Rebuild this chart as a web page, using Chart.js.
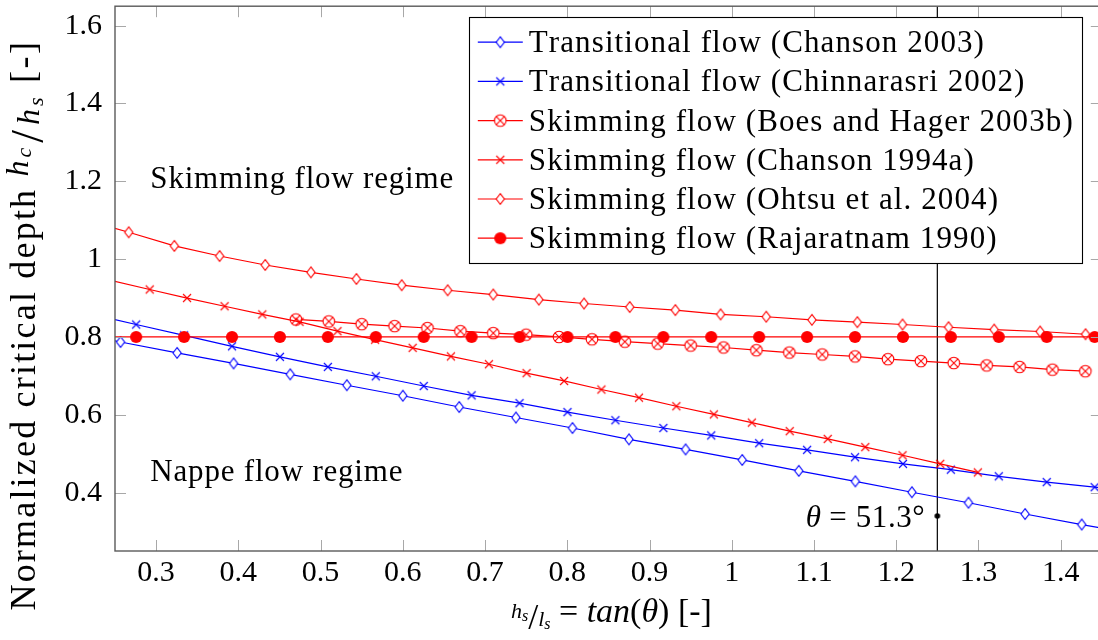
<!DOCTYPE html>
<html>
<head>
<meta charset="utf-8">
<script src="https://cdn.jsdelivr.net/npm/chart.js@4.4.1/dist/chart.umd.min.js"></script>
<style>
  html, body { margin: 0; padding: 0; overflow: hidden; background: #fff; }
  canvas { display: block; }
</style>
</head>
<body>
<canvas id="chart" width="1108" height="640"></canvas>
<script>
// ---- data (x = hs/ls, y = hc/hs) ----
const chanson2003X = [0.235, 0.2567, 0.3255, 0.3942, 0.4631, 0.5319, 0.6000, 0.6686, 0.7375, 0.8063, 0.8750, 0.9439, 1.0127, 1.0815, 1.1503, 1.2191, 1.2879, 1.3567, 1.4256, 1.465];
const chanson2003Y = [0.796, 0.787, 0.759, 0.732, 0.704, 0.676, 0.649, 0.620, 0.593, 0.566, 0.537, 0.511, 0.484, 0.456, 0.429, 0.401, 0.374, 0.345, 0.318, 0.303];

const chinnarasriX = [0.235, 0.2757, 0.3340, 0.3923, 0.4505, 0.5088, 0.5671, 0.6254, 0.6836, 0.7419, 0.8002, 0.8585, 0.9168, 0.9750, 1.0333, 1.0916, 1.1499, 1.2082, 1.2664, 1.3247, 1.3830, 1.4413, 1.465];
const chinnarasriY = [0.852, 0.832, 0.804, 0.776, 0.749, 0.723, 0.699, 0.674, 0.650, 0.630, 0.607, 0.586, 0.566, 0.547, 0.527, 0.510, 0.491, 0.474, 0.459, 0.442, 0.427, 0.414, 0.409];

const boesX = [0.47, 0.51, 0.55, 0.59, 0.63, 0.67, 0.71, 0.75, 0.79, 0.83, 0.87, 0.91, 0.95, 0.99, 1.03, 1.07, 1.11, 1.15, 1.19, 1.23, 1.27, 1.31, 1.35, 1.39, 1.43];
const boesY = [0.845, 0.840, 0.833, 0.828, 0.823, 0.815, 0.810, 0.806, 0.800, 0.794, 0.788, 0.783, 0.778, 0.773, 0.766, 0.760, 0.755, 0.750, 0.743, 0.738, 0.733, 0.727, 0.723, 0.716, 0.712];

const chanson1994X = [0.235, 0.2922, 0.3376, 0.3833, 0.4291, 0.4744, 0.5205, 0.5663, 0.6120, 0.6585, 0.7047, 0.7505, 0.7961, 0.8415, 0.8872, 0.9326, 0.9782, 1.0244, 1.0705, 1.1167, 1.1624, 1.2077, 1.2535, 1.2993];
const chanson1994Y = [0.950, 0.922, 0.900, 0.879, 0.858, 0.839, 0.815, 0.793, 0.772, 0.750, 0.730, 0.707, 0.687, 0.665, 0.644, 0.622, 0.601, 0.580, 0.558, 0.538, 0.517, 0.496, 0.474, 0.452];

const ohtsuX = [0.235, 0.2667, 0.3222, 0.3772, 0.4327, 0.4882, 0.5436, 0.5987, 0.6545, 0.7099, 0.7654, 0.8204, 0.8759, 0.9314, 0.9864, 1.0419, 1.0975, 1.1527, 1.2077, 1.2636, 1.3191, 1.3750, 1.4302, 1.465];
const ohtsuY = [1.088, 1.069, 1.034, 1.008, 0.985, 0.966, 0.949, 0.933, 0.920, 0.909, 0.896, 0.886, 0.877, 0.869, 0.858, 0.852, 0.844, 0.838, 0.832, 0.825, 0.819, 0.814, 0.807, 0.802];

const rajaratnamX = [0.235, 0.2757, 0.3340, 0.3923, 0.4505, 0.5088, 0.5671, 0.6254, 0.6836, 0.7419, 0.8002, 0.8585, 0.9168, 0.9750, 1.0333, 1.0916, 1.1499, 1.2082, 1.2664, 1.3247, 1.3830, 1.4413, 1.465];
const rajaratnamY = [0.8, 0.8, 0.8, 0.8, 0.8, 0.8, 0.8, 0.8, 0.8, 0.8, 0.8, 0.8, 0.8, 0.8, 0.8, 0.8, 0.8, 0.8, 0.8, 0.8, 0.8, 0.8, 0.8];

// theta = 51.3 deg marker line and node
const thetaLineX = [1.25, 1.25];
const thetaLineY = [0.25, 1.65];
const thetaDotX = [1.25];
const thetaDotY = [0.34];

const seriesLabels = [
  'Transitional flow (Chanson 2003)',
  'Transitional flow (Chinnarasri 2002)',
  'Skimming flow (Boes and Hager 2003b)',
  'Skimming flow (Chanson 1994a)',
  'Skimming flow (Ohtsu et al. 2004)',
  'Skimming flow (Rajaratnam 1990)'
];

const xTickValues = [0.3, 0.4, 0.5, 0.6, 0.7, 0.8, 0.9, 1.0, 1.1, 1.2, 1.3, 1.4];
const xTickLabels = ['0.3', '0.4', '0.5', '0.6', '0.7', '0.8', '0.9', '1', '1.1', '1.2', '1.3', '1.4'];
const yTickValues = [0.4, 0.6, 0.8, 1.0, 1.2, 1.4, 1.6];
const yTickLabels = ['0.4', '0.6', '0.8', '1', '1.2', '1.4', '1.6'];

const X_MIN = 0.25, X_MAX = 1.45, Y_MIN = 0.25, Y_MAX = 1.65;

// ---- look ----
const SERIF = '"Liberation Serif"';
const BLUE = '#0000ff';
const RED = '#ff0000';
const TICK_LEN = 11;

function toPoints(xs, ys) {
  return xs.map((x, i) => ({ x: x, y: ys[i] }));
}

// marker images, close to the pgfplots marks
function makeMarker(kind, color) {
  const c = document.createElement('canvas');
  const g = c.getContext('2d');
  if (kind === 'diamond') {
    c.width = 12; c.height = 16;
    g.lineWidth = 1.1; g.strokeStyle = color;
    g.beginPath();
    g.moveTo(6, 2.6); g.lineTo(10.1, 8); g.lineTo(6, 13.4); g.lineTo(1.9, 8); g.closePath();
    g.fillStyle = '#fff'; g.fill(); g.stroke();
  } else if (kind === 'cross') {
    c.width = 12; c.height = 12;
    g.lineWidth = 1.1; g.strokeStyle = color;
    g.beginPath();
    g.moveTo(2, 2); g.lineTo(10, 10); g.moveTo(10, 2); g.lineTo(2, 10);
    g.stroke();
  } else if (kind === 'otimes') {
    c.width = 16; c.height = 16;
    g.lineWidth = 1.1; g.strokeStyle = color;
    g.beginPath(); g.arc(8, 8, 5.8, 0, Math.PI * 2);
    g.fillStyle = '#fff'; g.fill(); g.stroke();
    g.beginPath();
    g.moveTo(3.9, 3.9); g.lineTo(12.1, 12.1); g.moveTo(12.1, 3.9); g.lineTo(3.9, 12.1);
    g.stroke();
  } else if (kind === 'dot') {
    c.width = 16; c.height = 16;
    g.fillStyle = color;
    g.beginPath(); g.arc(8, 8, 6.1, 0, Math.PI * 2); g.fill();
  } else if (kind === 'node') {
    c.width = 8; c.height = 8;
    g.fillStyle = color;
    g.beginPath(); g.arc(4, 4, 2.8, 0, Math.PI * 2); g.fill();
  }
  return c;
}

const markerImgs = [
  makeMarker('diamond', BLUE),
  makeMarker('cross', BLUE),
  makeMarker('otimes', RED),
  makeMarker('cross', RED),
  makeMarker('diamond', RED),
  makeMarker('dot', RED)
];
const seriesColors = [BLUE, BLUE, RED, RED, RED, RED];
const seriesPoints = [
  toPoints(chanson2003X, chanson2003Y),
  toPoints(chinnarasriX, chinnarasriY),
  toPoints(boesX, boesY),
  toPoints(chanson1994X, chanson1994Y),
  toPoints(ohtsuX, ohtsuY),
  toPoints(rajaratnamX, rajaratnamY)
];

const datasets = seriesPoints.map((pts, i) => ({
  label: seriesLabels[i],
  data: pts,
  showLine: true,
  borderColor: seriesColors[i],
  backgroundColor: seriesColors[i],
  borderWidth: 1.2,
  pointStyle: markerImgs[i],
  pointRadius: 5,
  order: 5 - i
}));
datasets.push({
  label: 'theta line',
  data: toPoints(thetaLineX, thetaLineY),
  showLine: true,
  borderColor: '#000',
  borderWidth: 1.2,
  pointRadius: 0,
  order: 10
});
datasets.push({
  label: 'theta node',
  data: toPoints(thetaDotX, thetaDotY),
  showLine: false,
  pointStyle: makeMarker('node', '#000'),
  pointRadius: 3,
  order: -1
});

// ---- text helpers: runs of mixed upright / italic / small parts ----
// extra tracking is done by hand, char by char
function fontOf(p) {
  return (p.it ? 'italic ' : '') + p.size + 'px ' + SERIF;
}
function partWidth(ctx, p) {
  ctx.font = fontOf(p);
  return ctx.measureText(p.t).width + (p.ls || 0) * p.t.length;
}
function drawPart(ctx, p, x, y) {
  ctx.font = fontOf(p);
  if (!p.ls) { ctx.fillText(p.t, x, y); return; }
  let cx = x;
  for (const ch of p.t) {
    ctx.fillText(ch, cx, y);
    cx += ctx.measureText(ch).width + p.ls;
  }
}
function drawRun(ctx, parts, x, y, align) {
  const widths = parts.map(p => partWidth(ctx, p));
  const total = widths.reduce((a, b) => a + b, 0);
  let cx = align === 'center' ? x - total / 2 : (align === 'right' ? x - total : x);
  ctx.textAlign = 'left';
  ctx.textBaseline = 'alphabetic';
  parts.forEach((p, i) => {
    drawPart(ctx, p, cx, y + (p.dy || 0));
    cx += widths[i];
  });
  return total;
}

const xTitleParts = [
  { t: 'h', size: 22, it: true, dy: -4 },
  { t: 's', size: 16, it: true, dy: -1 },
  { t: '/', size: 36, dy: 7 },
  { t: 'l', size: 22, it: true, dy: 4 },
  { t: 's', size: 16, it: true, dy: 7 },
  { t: ' = ', size: 34 },
  { t: 'tan', size: 34, it: true },
  { t: '(', size: 34 },
  { t: 'θ', size: 34, it: true },
  { t: ')', size: 34 },
  { t: ' [-]', size: 34 }
];
const yTitleParts = [
  { t: 'Normalized critical depth ', size: 36, ls: 2.2 },
  { t: 'h', size: 32, it: true, dy: -7, ls: 3 },
  { t: 'c', size: 22, it: true, dy: -4, ls: 5 },
  { t: '/', size: 46, dy: 8, ls: 5 },
  { t: 'h', size: 32, it: true, dy: 4, ls: 3 },
  { t: 's', size: 22, it: true, dy: 8, ls: 3 },
  { t: ' [-]', size: 36, ls: 2.5 }
];
const skimmingText = 'Skimming flow regime';
const nappeText = 'Nappe flow regime';
const thetaParts = [
  { t: 'θ', size: 31, it: true },
  { t: ' = 51.3°', size: 31, ls: 0.6 }
];
const LABEL_LS = 1.1;
const REGION_LS = 0.8;

// frame with inward ticks on all four sides
const frameTicks = {
  id: 'frameTicks',
  afterDatasetsDraw(chart) {
    const { ctx, chartArea: a, scales: { x, y } } = chart;
    ctx.save();
    ctx.strokeStyle = '#a8a8a8';
    ctx.lineWidth = 1;
    ctx.beginPath();
    xTickValues.forEach(v => {
      const px = Math.round(x.getPixelForValue(v)) + 0.5;
      ctx.moveTo(px, a.bottom); ctx.lineTo(px, a.bottom - TICK_LEN);
      ctx.moveTo(px, a.top); ctx.lineTo(px, a.top + TICK_LEN);
    });
    yTickValues.forEach(v => {
      const py = Math.round(y.getPixelForValue(v)) + 0.5;
      ctx.moveTo(a.left, py); ctx.lineTo(a.left + TICK_LEN, py);
      ctx.moveTo(a.right, py); ctx.lineTo(a.right - TICK_LEN, py);
    });
    ctx.stroke();
    ctx.strokeStyle = '#5a5a5a';
    ctx.lineWidth = 1.4;
    ctx.strokeRect(a.left, a.top, a.right - a.left, a.bottom - a.top);
    ctx.restore();
  }
};

// legend box, region labels, axis titles
const overlay = {
  id: 'overlay',
  afterDraw(chart) {
    const { ctx, chartArea: a, scales: { x, y } } = chart;
    ctx.save();
    ctx.fillStyle = '#000';

    // region labels
    drawRun(ctx, [{ t: skimmingText, size: 31, ls: REGION_LS }], x.getPixelForValue(0.293), y.getPixelForValue(1.182), 'left');
    drawRun(ctx, [{ t: nappeText, size: 31, ls: REGION_LS }], x.getPixelForValue(0.293), y.getPixelForValue(0.43), 'left');

    // theta annotation
    const nx = x.getPixelForValue(thetaDotX[0]);
    const ny = y.getPixelForValue(thetaDotY[0]);
    drawRun(ctx, thetaParts, nx - 12, ny + 11, 'right');

    // axis titles
    drawRun(ctx, xTitleParts, (a.left + a.right) / 2 + 3, 622, 'center');
    ctx.save();
    ctx.translate(35, 325);
    ctx.rotate(-Math.PI / 2);
    drawRun(ctx, yTitleParts, 0, 0, 'center');
    ctx.restore();

    // legend
    const rowH = 39.2;
    const textW = Math.max(...seriesLabels.map(t => partWidth(ctx, { t: t, size: 31, ls: LABEL_LS })));
    const boxW = 60 + textW + 8;
    const boxR = a.right - 20;
    const boxL = boxR - boxW;
    const boxT = a.top + 11;
    const boxH = 25 + rowH * 5 + 25;
    ctx.fillStyle = '#fff';
    ctx.fillRect(boxL, boxT, boxW, boxH);
    ctx.strokeStyle = '#000';
    ctx.lineWidth = 1.1;
    ctx.strokeRect(Math.round(boxL) + 0.5, Math.round(boxT) + 0.5, Math.round(boxW), Math.round(boxH));
    seriesLabels.forEach((label, i) => {
      const cy = boxT + 25 + i * rowH;
      ctx.strokeStyle = seriesColors[i];
      ctx.lineWidth = 1.2;
      ctx.beginPath();
      ctx.moveTo(boxL + 9, cy); ctx.lineTo(boxL + 54, cy);
      ctx.stroke();
      const img = markerImgs[i];
      ctx.drawImage(img, boxL + 31.5 - img.width / 2, cy - img.height / 2);
      ctx.fillStyle = '#000';
      drawRun(ctx, [{ t: label, size: 31, ls: LABEL_LS }], boxL + 60, cy + 10, 'left');
    });
    ctx.restore();
  }
};

new Chart(document.getElementById('chart').getContext('2d'), {
  type: 'scatter',
  data: { datasets: datasets },
  options: {
    responsive: false,
    animation: false,
    events: [],
    layout: { padding: { top: 6, right: 5, left: 0, bottom: 0 } },
    plugins: {
      legend: { display: false },
      tooltip: { enabled: false },
      title: { display: false }
    },
    scales: {
      x: {
        type: 'linear',
        min: X_MIN,
        max: X_MAX,
        grid: { display: false, drawTicks: false },
        border: { display: false },
        afterBuildTicks: s => { s.ticks = xTickValues.map(v => ({ value: v })); },
        afterFit: s => { s.height = 89; s.paddingLeft = 0; s.paddingRight = 0; },
        ticks: {
          autoSkip: false,
          maxRotation: 0,
          padding: 4,
          color: '#000',
          font: { family: SERIF, size: 30 },
          callback: (v, i) => xTickLabels[i]
        }
      },
      y: {
        type: 'linear',
        min: Y_MIN,
        max: Y_MAX,
        grid: { display: false, drawTicks: false },
        border: { display: false },
        afterBuildTicks: s => { s.ticks = yTickValues.map(v => ({ value: v })); },
        afterFit: s => { s.width = 115; s.paddingTop = 0; s.paddingBottom = 0; },
        ticks: {
          autoSkip: false,
          padding: 13,
          color: '#000',
          font: { family: SERIF, size: 30 },
          callback: (v, i) => yTickLabels[i]
        }
      }
    }
  },
  plugins: [frameTicks, overlay]
});
</script>
</body>
</html>
